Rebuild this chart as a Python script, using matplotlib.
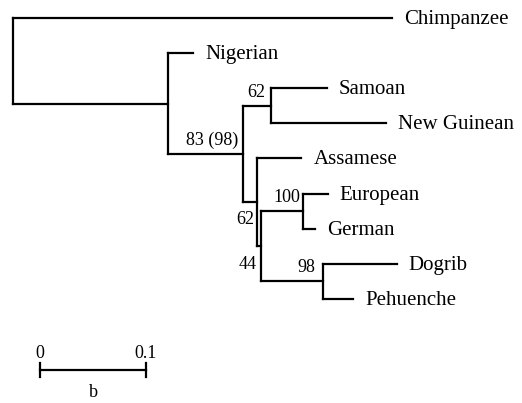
import matplotlib
matplotlib.use("Agg")
import matplotlib.pyplot as plt

# tree given as node list with parent and branch length (substitutions/site)
nodes = ["root", "Chimpanzee", "A", "Nigerian", "B", "D", "Samoan", "New Guinean",
         "C", "Assamese", "E", "F", "European", "German", "G", "Dogrib", "Pehuenche"]
parents = [None, "root", "root", "A", "A", "B", "D", "D",
           "B", "C", "C", "E", "F", "F", "E", "G", "G"]
branch_lengths = [0.0, 0.358, 0.146, 0.024, 0.071, 0.026, 0.053, 0.109,
                  0.013, 0.042, 0.004, 0.040, 0.023, 0.011, 0.058, 0.070, 0.029]

# bootstrap support
support_nodes = ["D", "B", "C", "E", "F", "G"]
support_values = ["62", "83 (98)", "62", "44", "100", "98"]

scale_length = 0.1
scale_labels = ["0", "0.1"]
panel_label = "b"

plt.rcParams['font.family'] = ['Liberation Serif', 'DejaVu Serif']

children = {n: [] for n in nodes}
for n, p in zip(nodes, parents):
    if p is not None:
        children[p].append(n)
blen = dict(zip(nodes, branch_lengths))
par = dict(zip(nodes, parents))

xpos = {}
for n in nodes:  # parents always listed before children
    xpos[n] = 0.0 if par[n] is None else xpos[par[n]] + blen[n]

ypos = {}
leaf_counter = [0]
def place(n):
    if not children[n]:
        ypos[n] = leaf_counter[0]
        leaf_counter[0] += 1
    else:
        for c in children[n]:
            place(c)
        ypos[n] = (ypos[children[n][0]] + ypos[children[n][-1]]) / 2
place("root")

fig = plt.figure(figsize=(5.22, 4.03), dpi=100)
ax = fig.add_axes([0, 0, 1, 1])
ax.set_xlim(-13 / 1060, (522 - 13) / 1060)
ax.set_ylim((403 - 18) / 35.1, -18 / 35.1)
ax.axis('off')

lw = 1.6
for n in nodes:
    if par[n] is not None:
        ax.plot([xpos[par[n]], xpos[n]], [ypos[n], ypos[n]], color='black',
                lw=lw, solid_capstyle='projecting')
    if children[n]:
        ax.plot([xpos[n], xpos[n]], [ypos[children[n][0]], ypos[children[n][-1]]],
                color='black', lw=lw, solid_capstyle='projecting')
    else:
        ax.annotate(n, (xpos[n], ypos[n]), xytext=(12, -6), textcoords='offset pixels',
                    ha='left', va='baseline', fontsize=15)

# support label offsets (pixels) relative to node x and anchor y
offsets = {"D": ("top", -5, -9), "B": ("node", -5, 9), "C": ("node", -3, -22),
           "E": ("node", -4, -23), "F": ("top", -3, -8), "G": ("top", -7, -8)}
for n, v in zip(support_nodes, support_values):
    anchor, dx, dy = offsets[n]
    y = ypos[children[n][0]] if anchor == "top" else ypos[n]
    ax.annotate(v, (xpos[n], y), xytext=(dx, dy), textcoords='offset pixels',
                ha='right', va='baseline', fontsize=13)

# scale bar
sx0 = 27 / 1060
sy = (370 - 18) / 35.1
ax.plot([sx0, sx0 + scale_length], [sy, sy], color='black', lw=lw)
for xx, lab in zip([sx0, sx0 + scale_length], scale_labels):
    ax.plot([xx, xx], [sy - 0.2, sy + 0.2], color='black', lw=lw)
    ax.annotate(lab, (xx, sy), xytext=(0, 12), textcoords='offset pixels',
                ha='center', va='baseline', fontsize=13)
ax.annotate(panel_label, (sx0 + scale_length / 2, sy), xytext=(0, -27),
            textcoords='offset pixels', ha='center', va='baseline', fontsize=13)

fig.savefig("out.png", dpi=100)
